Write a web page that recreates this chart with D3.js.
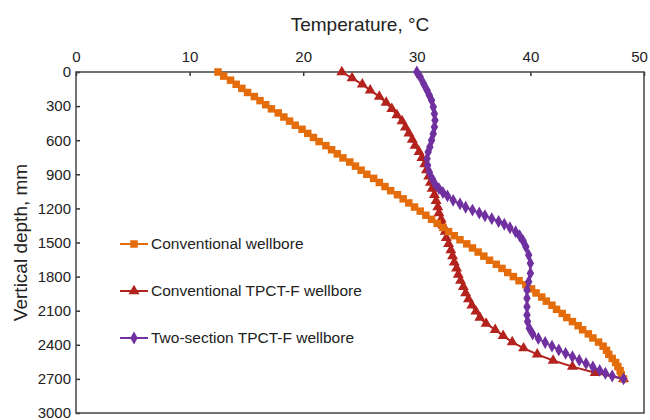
<!DOCTYPE html>
<html>
<head>
<meta charset="utf-8">
<script src="https://cdn.jsdelivr.net/npm/d3@7"></script>
<style>
  body { margin: 0; background: #fff; }
  text { font-family: Arial, "Liberation Sans", sans-serif; fill: #222; }
</style>
</head>
<body>
<svg id="chart" width="650" height="420"></svg>
<script>
// Conventional wellbore: depth (mm) and temperature (°C)
const convDepth = [0, 36, 72, 108, 144, 180, 216, 252, 288, 324, 360, 396, 432, 468, 504, 540, 576, 612, 648, 684,
  720, 756, 792, 828, 864, 900, 936, 972, 1008, 1044, 1080, 1116, 1152, 1188, 1224, 1260, 1296, 1332, 1368, 1404,
  1440, 1476, 1512, 1548, 1584, 1620, 1656, 1692, 1728, 1764, 1800, 1836, 1872, 1908, 1944, 1980, 2016, 2052, 2088, 2124,
  2160, 2196, 2232, 2268, 2304, 2340, 2376, 2412, 2448, 2484, 2520, 2556, 2592, 2628, 2664, 2700];
const convTemp = [12.5, 13.0, 13.6, 14.1, 14.6, 15.1, 15.7, 16.2, 16.7, 17.2, 17.8, 18.3, 18.8, 19.3, 19.9, 20.4, 20.9, 21.4, 22.0, 22.5,
  23.0, 23.5, 24.1, 24.6, 25.1, 25.6, 26.2, 26.7, 27.2, 27.7, 28.3, 28.8, 29.3, 29.8, 30.3, 30.8, 31.3, 31.8, 32.3, 32.8,
  33.3, 33.8, 34.4, 34.9, 35.4, 35.9, 36.4, 37.0, 37.5, 38.0, 38.5, 39.0, 39.6, 40.1, 40.5, 41.0, 41.4, 41.9, 42.3, 42.8,
  43.2, 43.7, 44.2, 44.6, 45.1, 45.5, 46.0, 46.4, 46.7, 46.9, 47.2, 47.5, 47.7, 47.9, 48.0, 48.2];

// Conventional TPCT-F wellbore
const tpctDepth = [0, 54, 108, 162, 216, 270, 324, 378, 432, 486, 540, 594, 648, 702, 756, 810, 864, 918, 972, 1026,
  1080, 1134, 1188, 1242, 1296, 1350, 1404, 1458, 1512, 1566, 1620, 1674, 1728, 1782, 1836, 1890, 1944, 1998, 2052, 2106,
  2160, 2214, 2268, 2322, 2376, 2430, 2484, 2538, 2592, 2646, 2700];
const tpctTemp = [23.4, 24.3, 25.2, 25.9, 26.7, 27.3, 27.8, 28.25, 28.7, 29.0, 29.3, 29.6, 29.85, 30.2, 30.45, 30.7, 30.85, 31.05, 31.2, 31.35,
  31.55, 31.7, 31.85, 31.95, 32.15, 32.3, 32.5, 32.6, 32.8, 33.0, 33.15, 33.3, 33.5, 33.65, 33.85, 34.1, 34.3, 34.55, 34.85, 35.2,
  35.55, 36.1, 36.9, 37.6, 38.4, 39.4, 40.6, 42.0, 43.7, 45.7, 48.2];

// Two-section TPCT-F wellbore
const twoDepth = [0, 44, 103, 161, 205, 249, 308, 367, 425, 484, 543, 601, 660, 704, 763, 821, 880, 938, 985, 1026,
  1060, 1090, 1129, 1160, 1190, 1215, 1240, 1265, 1290, 1315, 1340, 1370, 1405, 1440, 1485, 1537, 1610, 1683, 1771, 1845,
  1918, 1991, 2065, 2138, 2196, 2255, 2305, 2345, 2380, 2412, 2445, 2475, 2505, 2535, 2565, 2595, 2625, 2650, 2675, 2700];
const twoTemp = [30.0, 30.3, 30.6, 30.9, 31.1, 31.3, 31.45, 31.55, 31.6, 31.55, 31.45, 31.3, 31.15, 31.0, 30.9, 30.95, 31.1, 31.35, 31.6, 31.95,
  32.3, 32.7, 33.2, 33.8, 34.3, 34.9, 35.5, 36.0, 36.6, 37.2, 37.7, 38.2, 38.7, 39.05, 39.35, 39.6, 39.85, 40.0, 40.0, 39.85,
  39.7, 39.7, 39.7, 39.7, 39.75, 39.9, 40.2, 40.7, 41.3, 41.9, 42.5, 43.1, 43.7, 44.3, 44.9, 45.5, 46.1, 46.6, 47.2, 48.2];

const seriesNames = ['Conventional wellbore', 'Conventional TPCT-F wellbore', 'Two-section TPCT-F wellbore'];
const seriesColors = ['#E46C0A', '#B3221C', '#7030A0'];
const xTicks = [0, 10, 20, 30, 40, 50];
const yTicks = [0, 300, 600, 900, 1200, 1500, 1800, 2100, 2400, 2700, 3000];

const svg = d3.select('#chart');
const margin = { top: 72, right: 6, bottom: 7, left: 76 };
const width = 650 - margin.left - margin.right;
const height = 420 - margin.top - margin.bottom;

const x = d3.scaleLinear().domain([0, 50]).range([0, width]);
const y = d3.scaleLinear().domain([0, 3000]).range([0, height]);

const g = svg.append('g').attr('transform', `translate(${margin.left},${margin.top})`);

// axes, ticks point inwards
let xAxis = g.append('g')
  .call(d3.axisTop(x).tickValues(xTicks).tickSizeInner(-4).tickSizeOuter(0).tickPadding(10));
let yAxis = g.append('g')
  .call(d3.axisLeft(y).tickValues(yTicks).tickFormat(d3.format('d')).tickSizeInner(-4).tickSizeOuter(0).tickPadding(5));

[xAxis, yAxis].forEach((a) => {
  a.select('.domain').remove();
  a.selectAll('line').attr('stroke', '#333').attr('stroke-width', 1.5);
  a.selectAll('text').attr('font-size', 15).attr('fill', '#222');
});

// last label sits a bit inside the corner
xAxis.selectAll('.tick text').filter((d) => d === 50).attr('dx', -5);

// frame
g.append('rect')
  .attr('width', width)
  .attr('height', height)
  .attr('fill', 'none')
  .attr('stroke', '#444')
  .attr('stroke-width', 1.5);

// titles
svg.append('text')
  .attr('x', margin.left + width / 2)
  .attr('y', 31)
  .attr('text-anchor', 'middle')
  .attr('font-size', 19)
  .text('Temperature, °C');

svg.append('text')
  .attr('transform', `translate(27, ${margin.top + height / 2}) rotate(-90)`)
  .attr('text-anchor', 'middle')
  .attr('font-size', 19)
  .text('Vertical depth, mm');

// series
const symbols = [d3.symbolSquare, d3.symbolTriangle, d3.symbolDiamond];
const symbolSizes = [56, 52, 48];
const seriesDepths = [convDepth, tpctDepth, twoDepth];
const seriesTemps = [convTemp, tpctTemp, twoTemp];
const drawOrder = [1, 0, 2];

const line = d3.line()
  .x((d) => x(d.t))
  .y((d) => y(d.d));

drawOrder.forEach((i) => {
  let pts = seriesDepths[i].map((d, k) => ({ d: d, t: seriesTemps[i][k] }));
  let sg = g.append('g').classed('series', true);

  sg.append('path')
    .datum(pts)
    .attr('d', line)
    .attr('fill', 'none')
    .attr('stroke', seriesColors[i])
    .attr('stroke-width', 2);

  sg.selectAll('path.marker')
    .data(pts)
    .enter()
    .append('path')
    .classed('marker', true)
    .attr('d', d3.symbol().type(symbols[i]).size(symbolSizes[i]))
    .attr('transform', (d) => `translate(${x(d.t)},${y(d.d)})`)
    .attr('fill', seriesColors[i]);
});

// legend
const legendY = [244, 291, 338];
seriesNames.forEach((name, i) => {
  let lg = svg.append('g').attr('transform', `translate(120, ${legendY[i]})`);

  lg.append('line')
    .attr('x1', 0)
    .attr('x2', 28)
    .attr('stroke', seriesColors[i])
    .attr('stroke-width', 2);

  lg.append('path')
    .attr('d', d3.symbol().type(symbols[i]).size(symbolSizes[i]))
    .attr('transform', 'translate(14,0)')
    .attr('fill', seriesColors[i]);

  lg.append('text')
    .attr('x', 31)
    .attr('dy', '0.35em')
    .attr('font-size', 15.5)
    .text(name);
});
</script>
</body>
</html>
